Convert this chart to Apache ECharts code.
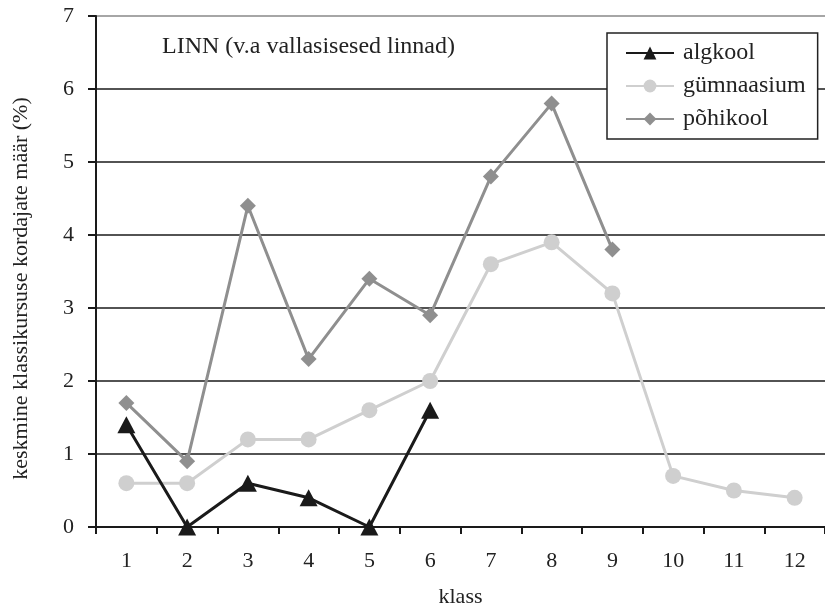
<!DOCTYPE html>
<html>
<head>
<meta charset="utf-8">
<script src="https://cdn.jsdelivr.net/npm/echarts@6/dist/echarts.min.js"></script>
<style>
  html, body { margin: 0; padding: 0; background: #fff; }
  #chart { width: 825px; height: 613px; }
</style>
</head>
<body>
<div id="chart"></div>
<script>
// Classes (klass) along the x axis
const classes = ['1', '2', '3', '4', '5', '6', '7', '8', '9', '10', '11', '12'];

// Average repeat rate (%) per class and school type
const algkool = [1.4, 0, 0.6, 0.4, 0, 1.6];
const gymnaasium = [0.6, 0.6, 1.2, 1.2, 1.6, 2.0, 3.6, 3.9, 3.2, 0.7, 0.5, 0.4];
const pohikool = [1.7, 0.9, 4.4, 2.3, 3.4, 2.9, 4.8, 5.8, 3.8];

const yTicks = [0, 1, 2, 3, 4, 5, 6, 7];

const serif = '"Liberation Serif", "DejaVu Serif", serif';

const chart = echarts.init(document.getElementById('chart'), null, { renderer: 'canvas' });

chart.setOption({
  animation: false,
  backgroundColor: '#ffffff',
  textStyle: { fontFamily: serif },
  grid: { left: 96, top: 16, width: 732, bottom: 84, containLabel: false },
  graphic: [{
    type: 'text',
    left: 162,
    top: 35,
    style: {
      text: 'LINN (v.a vallasisesed linnad)',
      font: '24px ' + serif,
      fill: '#222'
    }
  }],
  legend: {
    orient: 'vertical',
    left: 607,
    top: 33,
    padding: [8, 12, 8, 18],
    itemGap: 9,
    itemWidth: 48,
    itemHeight: 16,
    backgroundColor: '#fff',
    borderColor: '#222',
    borderWidth: 1.5,
    textStyle: { fontFamily: serif, fontSize: 24, color: '#222', padding: [0, 0, 0, 4] },
    data: ['algkool', 'gümnaasium', 'põhikool']
  },
  xAxis: {
    type: 'category',
    data: classes,
    boundaryGap: true,
    name: 'klass',
    nameLocation: 'middle',
    nameGap: 59,
    nameTextStyle: { fontFamily: serif, fontSize: 22, color: '#222' },
    axisLine: { lineStyle: { color: '#1a1a1a', width: 2 } },
    axisTick: { show: true, alignWithLabel: false, length: 7, lineStyle: { color: '#1a1a1a', width: 2 } },
    axisLabel: { fontFamily: serif, fontSize: 22, color: '#222', margin: 23 },
    splitLine: { show: false }
  },
  yAxis: {
    type: 'value',
    min: yTicks[0],
    max: yTicks[yTicks.length - 1],
    interval: 1,
    name: 'keskmine klassikursuse kordajate määr (%)',
    nameLocation: 'middle',
    nameGap: 64,
    nameTextStyle: { fontFamily: serif, fontSize: 22, color: '#222', padding: [0, 34, 0, 0] },
    axisLine: { show: true, lineStyle: { color: '#1a1a1a', width: 2 } },
    axisTick: { show: true, length: 8, lineStyle: { color: '#1a1a1a', width: 2 } },
    axisLabel: { fontFamily: serif, fontSize: 22, color: '#222', margin: 22 },
    splitLine: {
      show: true,
      lineStyle: {
        color: ['#1a1a1a', '#1a1a1a', '#1a1a1a', '#1a1a1a', '#1a1a1a', '#1a1a1a', '#1a1a1a', '#888888'],
        width: 1.6
      }
    }
  },
  series: [
    {
      name: 'gümnaasium',
      type: 'line',
      data: gymnaasium,
      symbol: 'circle',
      symbolSize: 16,
      z: 2,
      itemStyle: { color: '#cfcfcf' },
      lineStyle: { color: '#cfcfcf', width: 3 }
    },
    {
      name: 'põhikool',
      type: 'line',
      data: pohikool,
      symbol: 'diamond',
      symbolSize: [16, 16],
      z: 3,
      itemStyle: { color: '#8f8f8f' },
      lineStyle: { color: '#8f8f8f', width: 3 }
    },
    {
      name: 'algkool',
      type: 'line',
      data: algkool,
      symbol: 'triangle',
      symbolSize: [18, 17],
      z: 4,
      itemStyle: { color: '#1a1a1a' },
      lineStyle: { color: '#1a1a1a', width: 3 }
    }
  ]
});
</script>
</body>
</html>
